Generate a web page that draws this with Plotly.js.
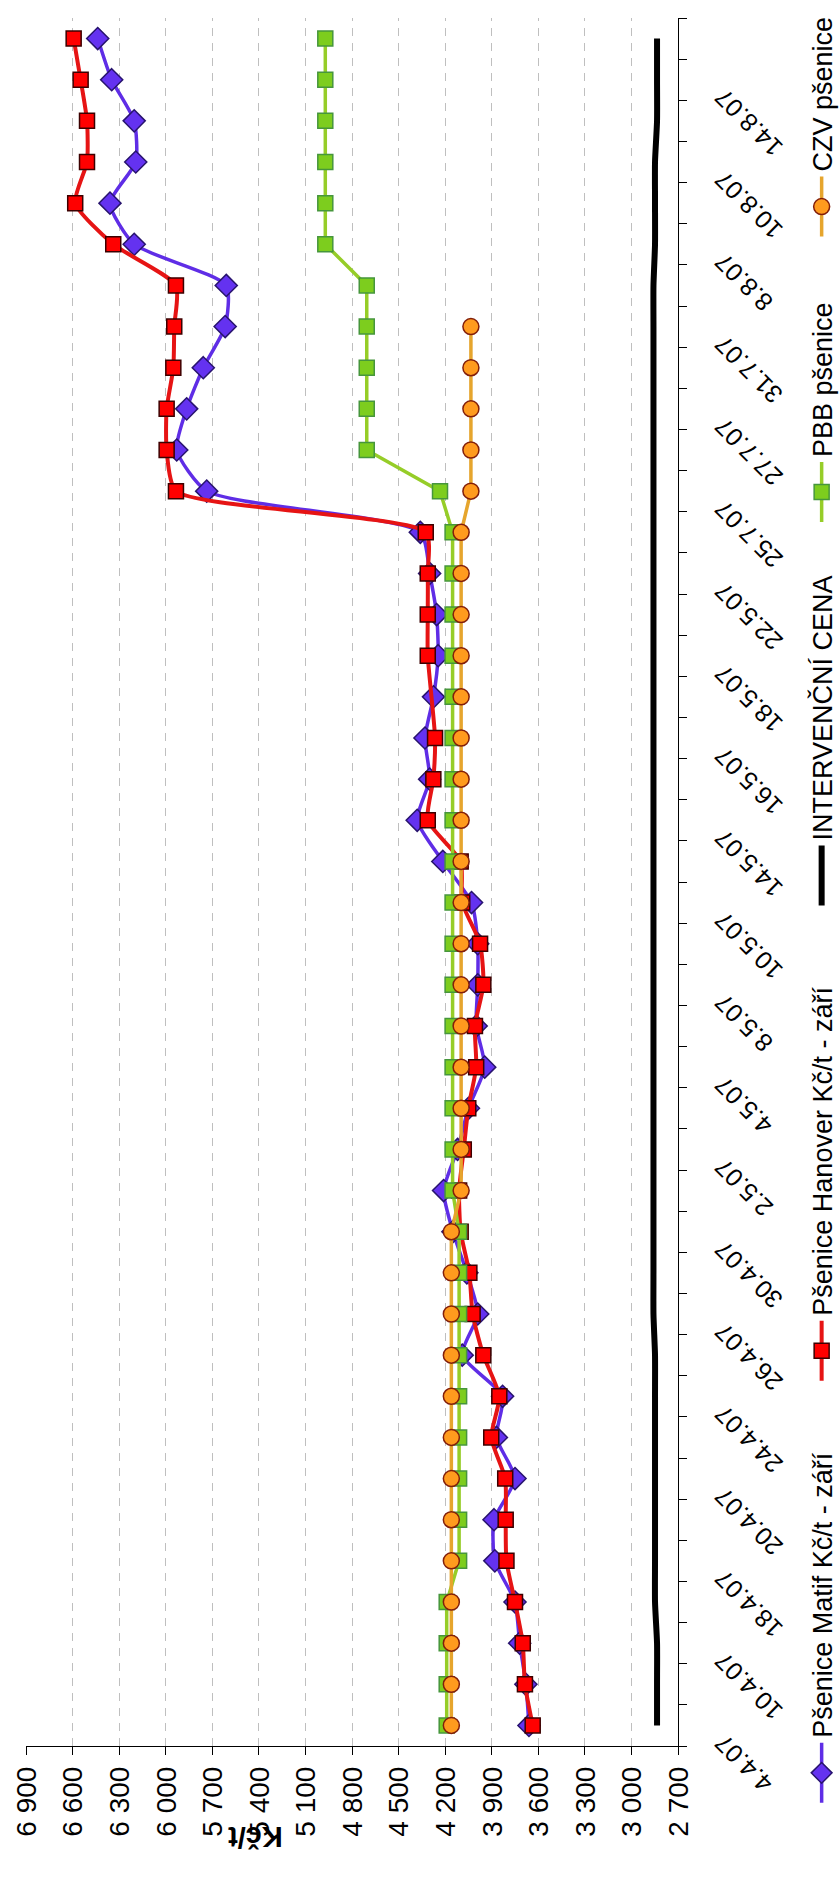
<!DOCTYPE html>
<html>
<head>
<meta charset="utf-8">
<script src="https://cdn.plot.ly/plotly-3.0.1.min.js"></script>
<style>
html,body{margin:0;padding:0;background:#fff;overflow:hidden;width:839px;height:1898px;}
#wrap{position:absolute;left:0;top:0;width:1898px;height:900px;transform-origin:0 0;transform:translate(0px,1898px) rotate(-90deg);}
</style>
</head>
<body>
<div id="wrap"></div>
<script>
// categories (dates); odd ones are not labelled in the reference
const dates = ['4.4.07','5.4.07','10.4.07','16.4.07','18.4.07','19.4.07','20.4.07','23.4.07',
  '24.4.07','25.4.07','26.4.07','27.4.07','30.4.07','1.5.07','2.5.07','3.5.07','4.5.07','7.5.07',
  '8.5.07','9.5.07','10.5.07','11.5.07','14.5.07','15.5.07','16.5.07','17.5.07','18.5.07','21.5.07',
  '22.5.07','23.5.07','25.7.07','26.7.07','27.7.07','30.7.07','31.7.07','1.8.07','8.8.07','9.8.07',
  '10.8.07','13.8.07','14.8.07','15.8.07'];
const tickLabels = ['4.4.07','','10.4.07','','18.4.07','','20.4.07','','24.4.07','','26.4.07','',
  '30.4.07','','2.5.07','','4.5.07','','8.5.07','','10.5.07','','14.5.07','','16.5.07','','18.5.07','',
  '22.5.07','','25.7.07','','27.7.07','','31.7.07','','8.8.07','','10.8.07','','14.8.07',''];
const matif = [3660,3680,3720,3750,3880,3885,3750,3870,3830,4090,3990,4060,4150,4210,4120,4050,
  3945,4000,3990,3990,4030,4215,4380,4300,4330,4275,4245,4255,4300,4360,5736,5929,5865,5758,5617,
  5610,6203,6359,6193,6203,6348,6438];
const hanover = [3636,3686,3700,3750,3805,3810,3813,3903,3851,3954,4023,4044,4100,4110,4080,4051,
  4000,4008,3954,3975,4090,4100,4312,4276,4265,null,4312,4312,4312,4325,5934,5994,5994,5951,5945,
  5934,6338,6583,6507,6507,6548,6593];
const intervencni = [2835,2835,2835,2848,2848,2848,2848,2848,2848,2848,2858,2858,2858,2858,2858,
  2858,2858,2858,2858,2858,2858,2858,2858,2858,2858,2858,2858,2858,2858,2858,2858,2858,2858,2858,
  2858,2858,2848,2848,2848,2835,2835,2835];
const pbb = [4190,4190,4190,4190,4110,4110,4110,4110,4110,4110,4110,4110,4110,4152,4152,4152,4152,
  4152,4152,4152,4152,4152,4152,4152,4152,4152,4152,4152,4152,4152,4233,4705,4705,4705,4705,4705,
  4972,4972,4972,4972,4972,4972];
const czv = [4160,4160,4160,4160,4160,4160,4160,4160,4160,4160,4160,4160,4160,4097,4097,4097,4097,
  4097,4097,4097,4097,4097,4097,4097,4097,4097,4097,4097,4097,4097,4034,4034,4034,4034,4034,null,
  null,null,null,null,null,null];
const names = ['Pšenice Matif Kč/t - září','Pšenice Hanover Kč/t - září','INTERVENČNÍ CENA',
  'PBB pšenice','CZV pšenice'];

const traces = [
  {x:dates,y:matif,name:names[0],mode:'lines+markers',legend:'legend',
   line:{color:'rgb(95,45,230)',width:3.5,shape:'spline',smoothing:0.6},
   marker:{symbol:'diamond',size:17,color:'rgb(100,50,240)',line:{color:'rgb(40,20,110)',width:1.5}}},
  {x:dates,y:hanover,name:names[1],mode:'lines+markers',legend:'legend2',connectgaps:true,
   line:{color:'rgb(230,20,20)',width:4,shape:'spline',smoothing:0.6},
   marker:{symbol:'square',size:15,color:'rgb(255,0,0)',line:{color:'rgb(60,0,0)',width:1.5}}},
  {x:dates,y:intervencni,name:names[2],mode:'lines',legend:'legend3',
   line:{color:'#000',width:6,shape:'spline',smoothing:0.6}},
  {x:dates,y:pbb,name:names[3],mode:'lines+markers',legend:'legend4',
   line:{color:'rgb(150,205,40)',width:3.5},
   marker:{symbol:'square',size:15,color:'rgb(125,205,30)',line:{color:'rgb(70,150,60)',width:1.5}}},
  {x:dates,y:czv,name:names[4],mode:'lines+markers',legend:'legend5',
   line:{color:'rgb(230,165,45)',width:3.5},
   marker:{symbol:'circle',size:16,color:'rgb(255,155,30)',line:{color:'rgb(130,30,10)',width:1.5}}}
];

function lg(x){
  return {orientation:'h',x:x,y:-0.221,xanchor:'left',yanchor:'middle',itemwidth:60,
    bgcolor:'rgba(0,0,0,0)',borderwidth:0,font:{size:27,color:'#000'}};
}

const layout = {
  width:1898,height:900,
  margin:{l:152,r:15,t:26,b:222},
  paper_bgcolor:'#fff',plot_bgcolor:'#fff',
  separators:', ',
  font:{family:'Liberation Sans, Arial, sans-serif',color:'#000'},
  showlegend:true,
  xaxis:{type:'category',tickmode:'array',tickvals:dates,ticktext:tickLabels,tickangle:-45,
    tickson:'boundaries',ticks:'outside',ticklen:8,tickcolor:'#000',showline:true,linecolor:'#000',
    linewidth:1,showgrid:false,range:[-0.5,41.5],tickfont:{size:25},automargin:false,
    ticklabelstandoff:20,ticklabelshift:-16},
  yaxis:{range:[2700,6900],tick0:2700,dtick:300,tickformat:',d',ticks:'outside',ticklen:8,
    tickcolor:'#000',showline:true,linecolor:'#000',linewidth:1,showgrid:true,gridcolor:'#BFBFBF',
    griddash:'8px,7px',zeroline:false,tickfont:{size:28},automargin:false,ticklabelstandoff:6},
  annotations:[{text:'<b>Kč/t</b>',textangle:-90,xref:'paper',yref:'paper',x:-0.063,y:0.693,
    showarrow:false,font:{size:29,color:'#000'}}],
  legend:lg(-0.0358),legend2:lg(0.2085),legend3:lg(0.4835),legend4:lg(0.7054),legend5:lg(0.8706)
};

Plotly.newPlot('wrap',traces,layout,{staticPlot:true,displayModeBar:false});
</script>
</body>
</html>
